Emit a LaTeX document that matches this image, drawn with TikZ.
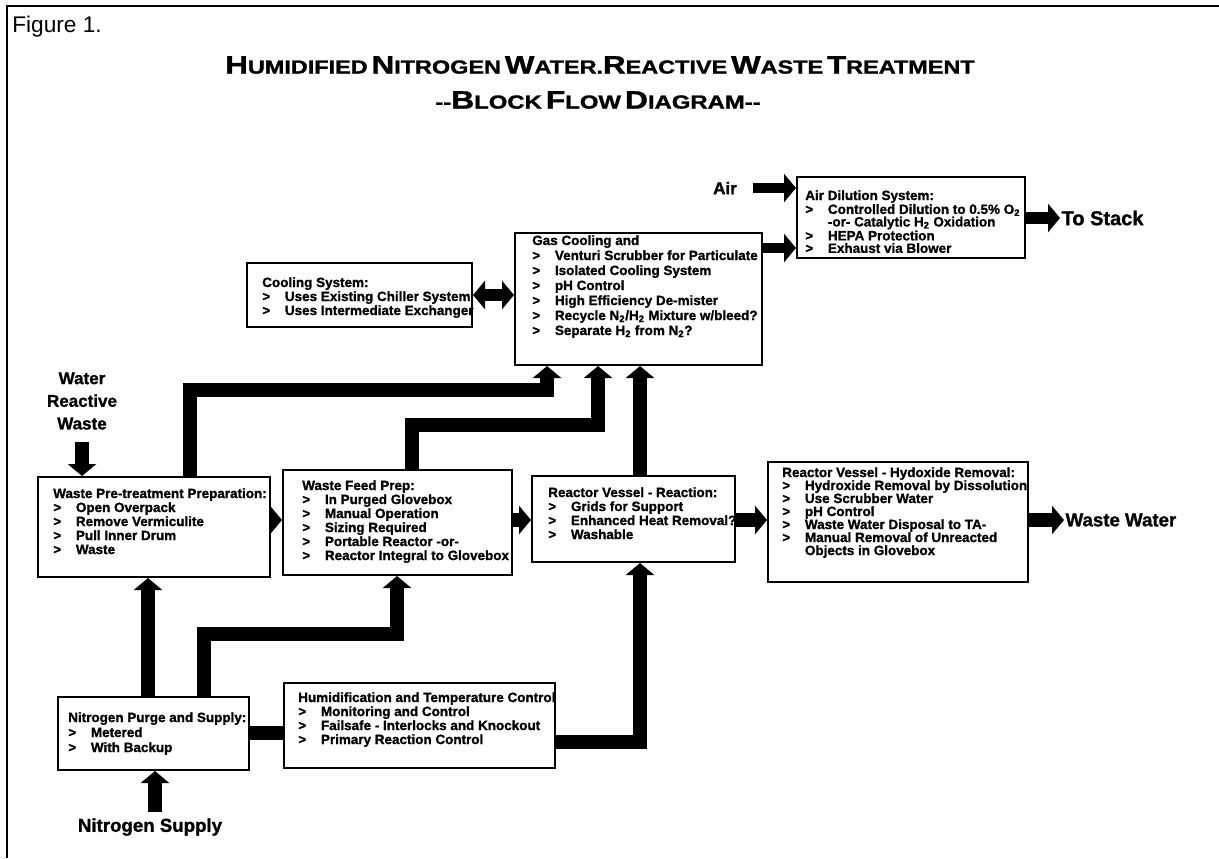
\documentclass[tikz,border=0pt]{standalone}
\usepackage{fontspec}
\setmainfont{Liberation Sans}[BoldFeatures={FakeBold=1.2}]
\usepackage{graphicx}
\usetikzlibrary{arrows.meta,fit}
\newcommand\itm[1]{\makebox[17pt][l]{>}#1}
\newcommand\ind[1]{\makebox[17pt][l]{}#1}
\newcommand\subs[1]{\textsubscript{#1}}
\newcommand\bigc[1]{{\fontsize{20pt}{20pt}\selectfont #1}}
\begin{document}
\begin{tikzpicture}[x=0.75pt,y=-0.75pt,
  box/.style={draw, line width=1.5pt, inner sep=0pt},
  txt/.style={inner sep=0pt, anchor=north west, align=left, font=\fontsize{10.1pt}{10.5pt}\selectfont\bfseries},
  pipe/.style={line width=10pt, line join=miter},
  arr/.style={pipe, -{Triangle[width=21pt,length=9pt]}},
  lbl/.style={inner sep=1pt, font=\bfseries\fontsize{14pt}{17pt}\selectfont}
]
\useasboundingbox (0,0) rectangle (1219,858);
\fill[white] (0,0) rectangle (1219,858);
% frame
\draw[line width=1.2pt] (7,858) -- (7,6) -- (1219,6);

% titles
\node[anchor=west, inner sep=0pt, font=\fontsize{17pt}{17pt}\selectfont] (fig) at (12,27) {Figure 1.};
\node[inner sep=0pt, font=\bfseries\fontsize{15pt}{15pt}\selectfont] (title1) at (600,65)
  {\resizebox{562pt}{13pt}{\bigc{H}UMIDIFIED\,\bigc{N}ITROGEN\,\bigc{W}ATER.\bigc{R}EACTIVE\,\bigc{W}ASTE\,\bigc{T}REATMENT}};
\node[inner sep=0pt, font=\bfseries\fontsize{15pt}{15pt}\selectfont] (title2) at (598,100)
  {\resizebox{244pt}{13pt}{-{}-\bigc{B}LOCK\,\bigc{F}LOW\,\bigc{D}IAGRAM-{}-}};

% boxes
\node[box, fit={(247,263) (472,327)}] (cool) {};
\node[box, fit={(515,233) (762,365)}] (gas) {};
\node[box, fit={(797,177) (1025,258)}] (airdil) {};
\node[box, fit={(38,477) (270,577)}] (pre) {};
\node[box, fit={(283,470) (512,575)}] (feed) {};
\node[box, fit={(532,476) (735,562)}] (reactor) {};
\node[box, fit={(768,462) (1028,582)}] (hydro) {};
\node[box, fit={(58,697) (249,770)}] (nitro) {};
\node[box, fit={(284,683) (555,768)}] (humid) {};

% box texts
\node[txt] (coolT) at (262,277) {Cooling System:\\\itm{Uses Existing Chiller System}\\\itm{Uses Intermediate Exchanger}};
\node[txt, font=\fontsize{10.1pt}{11.25pt}\selectfont\bfseries] (gasT) at (532,235) {Gas Cooling and\\\itm{Venturi Scrubber for Particulate}\\\itm{Isolated Cooling System}\\\itm{pH Control}\\\itm{High Efficiency De-mister}\\\itm{Recycle N\subs{2}/H\subs{2} Mixture w/bleed?}\\\itm{Separate H\subs{2} from N\subs{2}?}};
\node[txt, font=\fontsize{10.1pt}{9.4pt}\selectfont\bfseries] (airdilT) at (805,190) {Air Dilution System:\\\itm{Controlled Dilution to 0.5\% O\subs{2}}\\\ind{-or- Catalytic H\subs{2} Oxidation}\\\itm{HEPA Protection}\\\itm{Exhaust via Blower}};
\node[txt, font=\fontsize{10.1pt}{9.75pt}\selectfont\bfseries] (hydroT) at (782,467) {Reactor Vessel - Hydoxide Removal:\\\itm{Hydroxide Removal by Dissolution}\\\itm{Use Scrubber Water}\\\itm{pH Control}\\\itm{Waste Water Disposal to TA-}\\\itm{Manual Removal of Unreacted}\\\ind{Objects in Glovebox}};
\node[txt] (preT) at (53,488) {Waste Pre-treatment Preparation:\\\itm{Open Overpack}\\\itm{Remove Vermiculite}\\\itm{Pull Inner Drum}\\\itm{Waste}};
\node[txt] (feedT) at (302,480) {Waste Feed Prep:\\\itm{In Purged Glovebox}\\\itm{Manual Operation}\\\itm{Sizing Required}\\\itm{Portable Reactor -or-}\\\itm{Reactor Integral to Glovebox}};
\node[txt] (reactorT) at (548,487) {Reactor Vessel - Reaction:\\\itm{Grids for Support}\\\itm{Enhanced Heat Removal?}\\\itm{Washable}};
\node[txt, font=\fontsize{10.1pt}{11.25pt}\selectfont\bfseries] (nitroT) at (68,712) {Nitrogen Purge and Supply:\\\itm{Metered}\\\itm{With Backup}};
\node[txt] (humidT) at (298,692) {Humidification and Temperature Control\\\itm{Monitoring and Control}\\\itm{Failsafe - Interlocks and Knockout}\\\itm{Primary Reaction Control}};

% outside labels
\node[lbl, font=\bfseries\fontsize{12.75pt}{17pt}\selectfont] (air) at (725,188) {Air};
\node[lbl, anchor=west, font=\bfseries\fontsize{15pt}{17pt}\selectfont] (stack) at (1060,218) {To Stack};
\node[lbl, anchor=west] (ww) at (1064,520) {Waste Water};
\node[lbl, align=center, font=\bfseries\fontsize{12.75pt}{17pt}\selectfont] (wrw) at (82,401) {Water\\Reactive\\Waste};
\node[lbl] (nsup) at (150,827) {Nitrogen Supply};

% connector coordinates
\coordinate (b1) at (190,390);
\coordinate (b1e) at (547,390);
\coordinate (b2) at (412,425);
\coordinate (b2e) at (598,425);
\coordinate (b3) at (640,420);
\coordinate (b4) at (148,650);
\coordinate (b5) at (204,634);
\coordinate (b5e) at (397,634);
\coordinate (b6) at (265,733);
\coordinate (b7) at (640,742);
\coordinate (b8) at (155,812);
\coordinate (b9) at (82,442);
\coordinate (b10) at (753,188);
\coordinate (b11) at (780,248);
\coordinate (b12) at (490,295);
\coordinate (b13) at (1040,218);
\coordinate (b14) at (750,520);

% connectors
\draw[arr] (b1 |- pre.north) -- (b1) -- (b1e) -- (b1e |- gas.south);
\draw[arr] (b2 |- feed.north) -- (b2) -- (b2e) -- (b2e |- gas.south);
\draw[arr] (b3 |- reactor.north) -- (b3 |- gas.south);
\draw[arr] (b4 |- nitro.north) -- (b4 |- pre.south);
\draw[arr] (b5 |- nitro.north) -- (b5) -- (b5e) -- (b5e |- feed.south);
\draw[pipe] (b6 -| nitro.east) -- (b6 -| humid.west);
\draw[arr] (b7 -| humid.east) -- (b7) -- (b7 |- reactor.south);
\draw[arr] (b8) -- (b8 |- nitro.south);
\draw[arr] (b9) -- (b9 |- pre.north);
\draw[arr, line width=8pt] (b10) -- (b10 -| airdil.west);
\draw[arr, line width=8pt] (b11 -| gas.east) -- (b11 -| airdil.west);
\draw[pipe, line width=9pt, {Triangle[width=21pt,length=9pt]}-{Triangle[width=21pt,length=9pt]}] (b12 -| cool.east) -- (b12 -| gas.west);
\draw[arr, line width=9pt] (b13 -| airdil.east) -- (stack.west);
\draw[arr] (b14 -| hydro.east) -- (ww.west);
\draw[arr] (b14 -| reactor.east) -- (b14 -| hydro.west);
\draw[arr] (b14 -| feed.east) -- (b14 -| reactor.west);
\draw[arr] (b14 -| pre.east) -- (b14 -| feed.west);
\end{tikzpicture}
\end{document}
